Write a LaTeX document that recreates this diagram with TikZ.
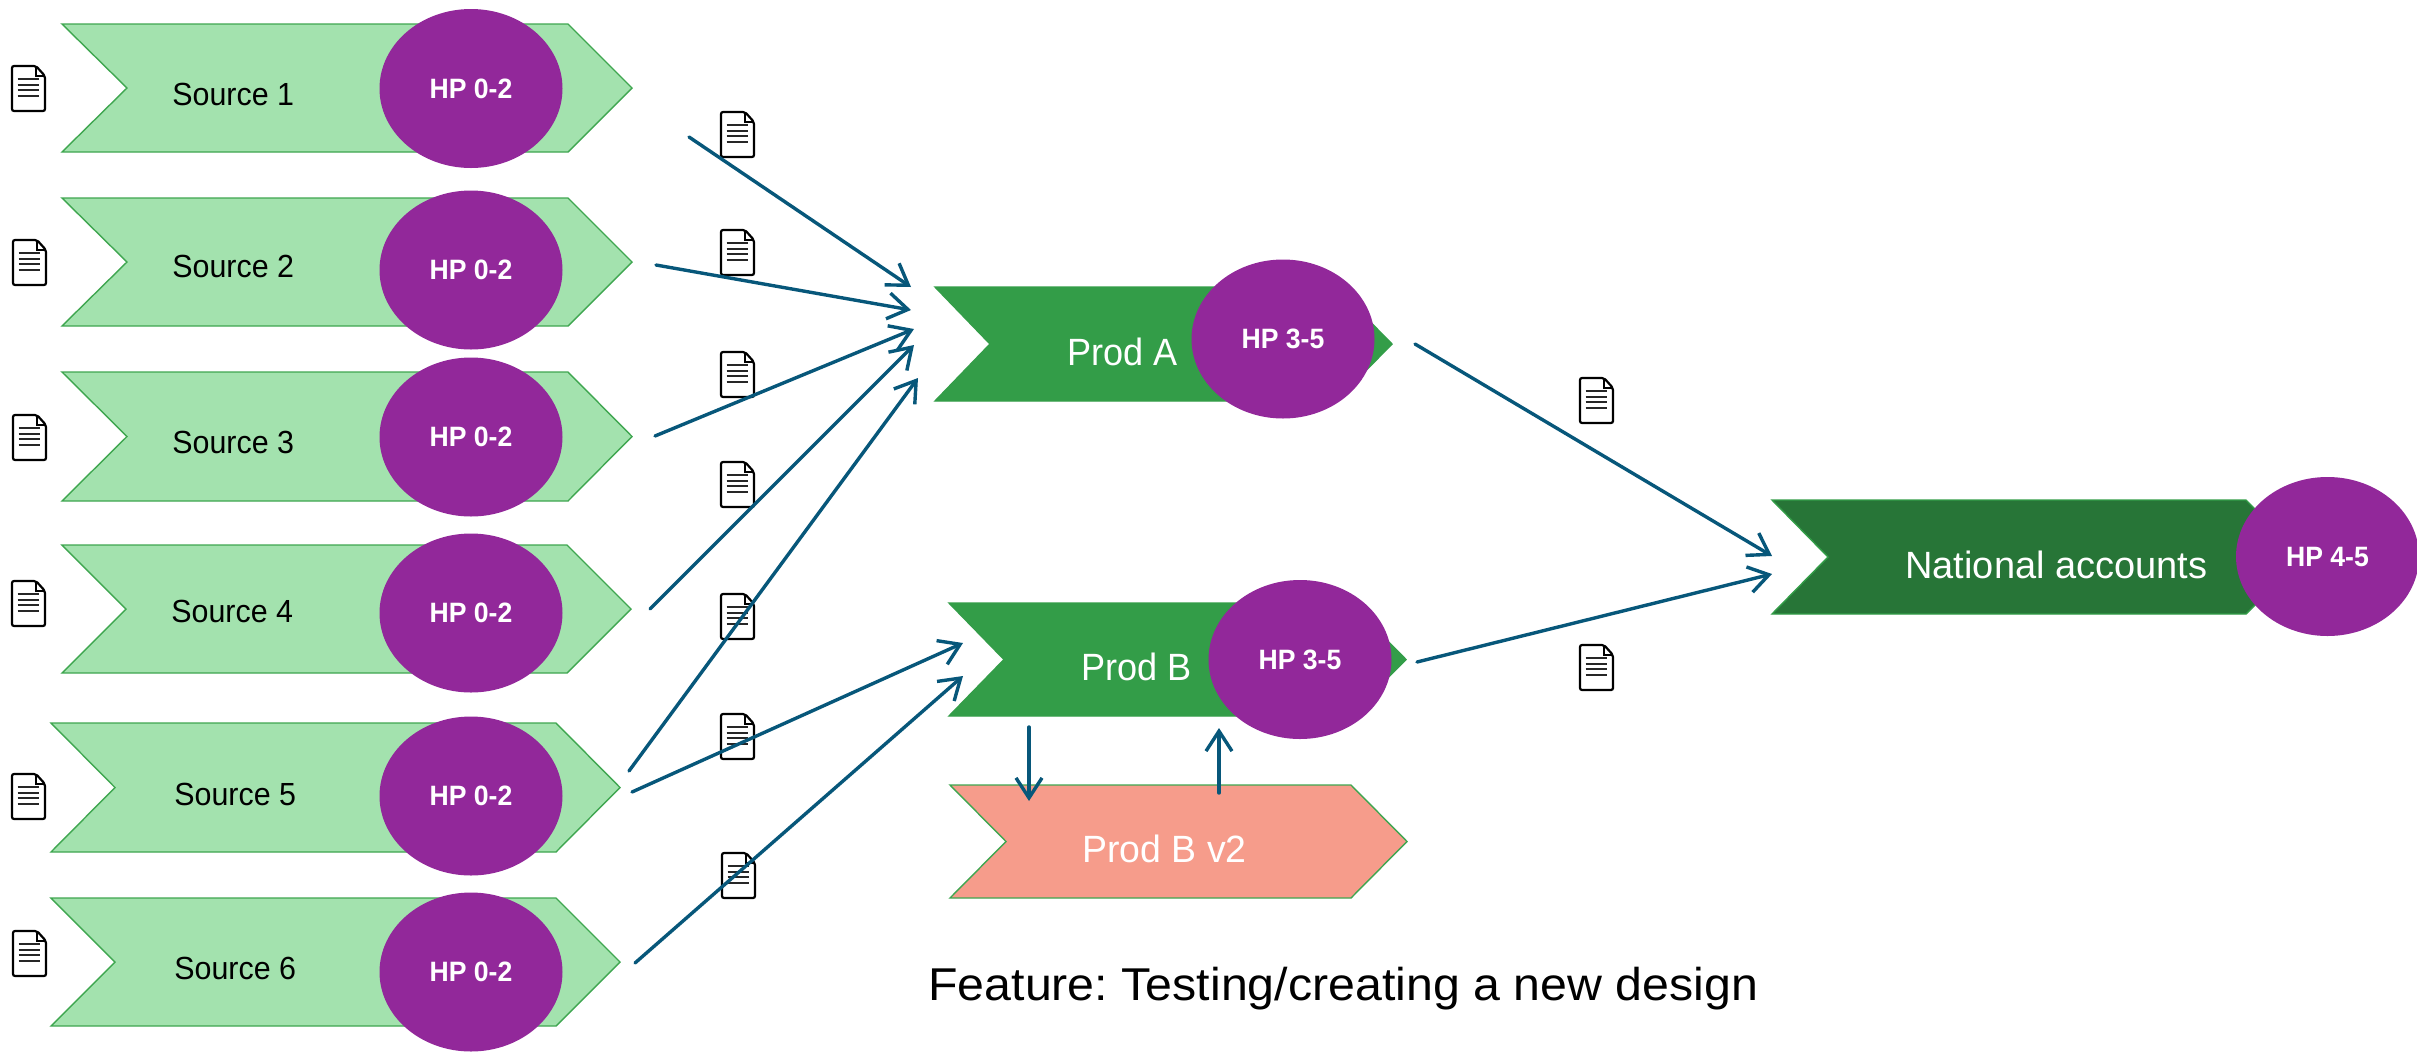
\documentclass[tikz,border=0pt]{standalone}
\usepackage{fontspec}
\setmainfont{Liberation Sans}[FakeStretch=0.95]
\newfontfamily\widefont{Liberation Sans}
\newfontfamily\vtwofont{Liberation Sans}[FakeStretch=0.985]
\newfontfamily\featfont{Liberation Sans}[FakeStretch=1.05]
\usetikzlibrary{arrows.meta,shapes.geometric}
\definecolor{lightg}{HTML}{A3E2AE}
\definecolor{edgeg}{HTML}{3FA650}
\definecolor{midg}{HTML}{339D48}
\definecolor{darkg}{HTML}{277537}
\definecolor{purp}{HTML}{92289A}
\definecolor{salmon}{HTML}{F69C8B}
\definecolor{flow}{HTML}{07577A}
\tikzset{
  x=0.5pt,y=-0.5pt,
  hp/.style={ellipse,fill=purp,draw=none,inner sep=0pt,minimum width=91.5pt,minimum height=79.5pt,
    text=white,font=\fontsize{14}{16}\selectfont\bfseries},
  srcl/.style={anchor=base west,inner sep=0pt,text=black,font=\fontsize{16}{19}\selectfont},
  prodl/.style={anchor=base west,inner sep=0pt,text=white,font=\fontsize{19}{23}\selectfont},
  flowline/.style={draw=flow,line width=1.7pt,line cap=round,
    -{Straight Barb[length=10pt,width=13pt,line width=1.7pt]}},
  docicon/.pic={
    \draw[black,line width=1.1pt,fill=white,rounded corners=1pt] (0,0)--(24,0)--(33,10)--(33,45)--(0,45)--cycle;
    \draw[black,line width=1pt] (24,0)--(24,10)--(33,10);
    \foreach \yy in {13,18.7,24.4,30}{\draw[black!85,line width=1pt] (5.5,\yy)--(27,\yy);}
  },
}
% #1 left, #2 top, #3 bottom, #4 notch x, #5 shoulder x, #6 tip x, #7 fill, #8 edge
\newcommand{\chevshape}[8]{%
  \draw[fill=#7,draw=#8,line width=0.7pt,line join=miter]
    (#1,#2)--(#5,#2)--(#6,{(#2+#3)/2})--(#5,#3)--(#1,#3)--(#4,{(#2+#3)/2})--cycle;}
\begin{document}
\begin{tikzpicture}
\useasboundingbox[fill=white] (0,0) rectangle (2417,1051);
% document icons
\pic (dl1) at (12,66) {docicon};
\pic (dl2) at (13,240) {docicon};
\pic (dl3) at (13,415) {docicon};
\pic (dl4) at (12,581) {docicon};
\pic (dl5) at (12,774) {docicon};
\pic (dl6) at (13,931) {docicon};
\pic (dm1) at (721,112) {docicon};
\pic (dm2) at (721,230) {docicon};
\pic (dm3) at (721,352) {docicon};
\pic (dm4) at (721,462) {docicon};
\pic (dm5) at (721,594) {docicon};
\pic (dm6) at (721,714) {docicon};
\pic (dm7) at (722,853) {docicon};
\pic (dr1) at (1580,378) {docicon};
\pic (dr2) at (1580,645) {docicon};
% source chevrons
\chevshape{62}{24}{152}{127}{568}{632}{lightg}{edgeg}
\chevshape{62}{198}{326}{127}{568}{632}{lightg}{edgeg}
\chevshape{62}{372}{501}{127}{568}{632}{lightg}{edgeg}
\chevshape{62}{545}{673}{126}{567}{631}{lightg}{edgeg}
\chevshape{51}{723}{852}{115}{556}{620}{lightg}{edgeg}
\chevshape{51}{898}{1026}{115}{556}{620}{lightg}{edgeg}
% product chevrons
\chevshape{935}{287}{401}{990}{1336}{1392}{midg}{midg}
\chevshape{949}{603}{716}{1004}{1350}{1406}{midg}{midg}
\chevshape{950}{785}{898}{1006}{1351}{1407}{salmon}{edgeg}
\chevshape{1772}{500}{614}{1828}{2246}{2303}{darkg}{midg}
% labels
\node[srcl] (s1) at (172,105) {Source 1};
\node[srcl] (s2) at (172,277) {Source 2};
\node[srcl] (s3) at (172,453) {Source 3};
\node[srcl] (s4) at (171,622) {Source 4};
\node[srcl] (s5) at (174,805) {Source 5};
\node[srcl] (s6) at (174,979) {Source 6};
\node[prodl] (pa) at (1067,365) {Prod A};
\node[prodl] (pb) at (1081,680) {Prod B};
\node[prodl] (pb2) at (1082,862) {\vtwofont Prod B v2};
\node[prodl] (na) at (1905,578) {\widefont National accounts};
\node[anchor=base west,inner sep=0pt,font=\featfont\fontsize{23}{27}\selectfont] (feat) at (928,1000) {\frenchspacing Feature: Testing/creating a new design};
% HP ellipses
\node[hp] (h1) at (471,88.5) {HP 0-2};
\node[hp] (h2) at (471,270) {HP 0-2};
\node[hp] (h3) at (471,437) {HP 0-2};
\node[hp] (h4) at (471,613) {HP 0-2};
\node[hp] (h5) at (471,796) {HP 0-2};
\node[hp] (h6) at (471,972) {HP 0-2};
\node[hp] (ha) at (1283,339) {HP 3-5};
\node[hp] (hb) at (1300,659.5) {HP 3-5};
\node[hp] (hn) at (2327.5,556.5) {HP 4-5};
% connector ends
\coordinate (a1s) at (689,137); \coordinate (a1e) at (911,287);
\coordinate (a2s) at (656,265); \coordinate (a2e) at (911,310);
\coordinate (a3s) at (655,436); \coordinate (a3e) at (914,329);
\coordinate (a4s) at (650,609); \coordinate (a4e) at (914,345);
\coordinate (a5s) at (629,771); \coordinate (a5e) at (918,378);
\coordinate (a6s) at (632,792); \coordinate (a6e) at (963,643);
\coordinate (a7s) at (635,963); \coordinate (a7e) at (963,676);
\coordinate (o1s) at (1415,344); \coordinate (o1e) at (1772,556);
\coordinate (o2s) at (1417,662); \coordinate (o2e) at (1772,574);
\coordinate (ds) at (1029,727); \coordinate (de) at (1029,801);
\coordinate (us) at (1219,793); \coordinate (ue) at (1219,728);
\foreach \p in {a1,a2,a3,a4,a5,a6,a7,o1,o2,d,u}{\draw[flowline] (\p s) -- (\p e);}
\end{tikzpicture}
\end{document}
